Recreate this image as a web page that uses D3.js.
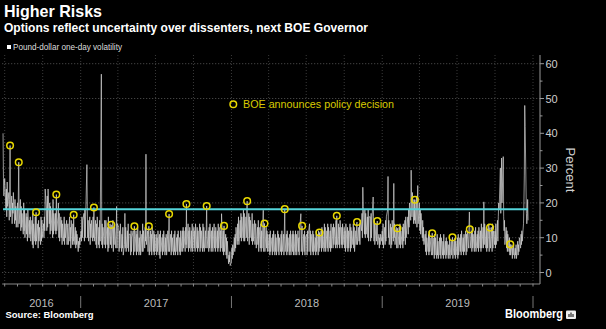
<!DOCTYPE html>
<html>
<head>
<meta charset="utf-8">
<script src="https://cdn.jsdelivr.net/npm/d3@7"></script>
<style>
  html, body { margin: 0; padding: 0; background: #000; }
  svg { display: block; }
  text { font-family: "Liberation Sans", Arial, sans-serif; }
</style>
</head>
<body>
<svg id="chart" width="606" height="329"></svg>
<script>
// Pound-dollar one-day volatility (%), one value per business day, by month
const monthStarts = [
  "2016-06-27", "2016-07-01", "2016-08-01", "2016-09-01", "2016-10-01", "2016-11-01", "2016-12-01",
  "2017-01-01", "2017-02-01", "2017-03-01", "2017-04-01", "2017-05-01", "2017-06-01",
  "2017-07-01", "2017-08-01", "2017-09-01", "2017-10-01", "2017-11-01", "2017-12-01",
  "2018-01-01", "2018-02-01", "2018-03-01", "2018-04-01", "2018-05-01", "2018-06-01",
  "2018-07-01", "2018-08-01", "2018-09-01", "2018-10-01", "2018-11-01", "2018-12-01",
  "2019-01-01", "2019-02-01", "2019-03-01", "2019-04-01", "2019-05-01", "2019-06-01",
  "2019-07-01", "2019-08-01", "2019-09-01", "2019-10-01", "2019-11-01", "2019-12-01"
];
const volByMonth = [
  [40, 27, 22, 25],
  [27, 18, 24, 16, 26, 19, 23, 15, 21, 36.5, 16, 22, 14, 20, 17, 23, 14, 21, 15, 19, 13],
  [20, 13, 22, 31.7, 14, 21, 12, 19, 13, 17, 11, 20, 12, 18, 10, 17, 11, 16, 9, 18, 10, 15, 11],
  [16, 9, 15, 8, 17, 7, 14, 9, 16, 8, 17.3, 9, 14, 7, 15, 9, 13, 8, 16, 9, 15, 10],
  [14, 10, 16, 12, 24, 18, 12, 22, 13, 24, 14, 20, 11, 19, 12, 18, 10, 21, 11, 17, 12],
  [17, 11, 22.4, 12, 16, 20, 10, 17, 9, 16, 10, 15, 8, 14, 9, 16, 8, 14, 10, 15, 8, 13],
  [14, 8, 16, 9, 13, 7, 15, 8, 14, 9, 16.6, 8, 13, 7, 12, 8, 11, 6, 9, 7, 10, 8],
  [12, 9, 16, 10, 15, 17, 9, 18, 10, 16, 31, 19, 10, 15, 9, 16, 8, 14, 10, 15, 9, 16],
  [10, 18.7, 9, 15, 8, 14, 7, 16, 8, 13, 7, 15, 9, 57, 8, 14, 7, 13, 8, 15],
  [14, 7, 15, 8, 13, 6, 16, 7, 14, 8, 12, 13.7, 7, 15, 6, 13, 8, 14, 7, 12, 19, 7, 14],
  [13, 6, 12, 7, 14, 6, 11, 7, 13, 5, 8, 17, 7, 13, 6, 12, 7, 14, 6, 11],
  [11, 5, 12, 6, 10, 12, 5, 11, 13.3, 6, 12, 5, 11, 6, 13, 5, 10, 6, 12, 5, 11, 6, 14],
  [6, 12, 7, 13, 9, 34, 8, 12, 6, 11, 13.3, 5, 12, 6, 11, 5, 13, 6, 12, 5, 11, 6],
  [11, 5, 10, 6, 12, 5, 11, 4, 12, 6, 10, 5, 11, 6, 12, 5, 10, 6, 11, 5, 12],
  [6, 11, 16.8, 6, 11, 5, 12, 6, 10, 5, 11, 6, 12, 5, 10, 6, 11, 5, 12, 6, 10, 5, 12],
  [6, 12, 6, 13, 7, 12, 6, 13, 8, 19.7, 7, 14, 6, 12, 7, 13, 6, 12, 7, 14, 6],
  [13, 7, 12, 6, 14, 7, 13, 6, 12, 7, 14, 6, 13, 7, 12, 6, 14, 7, 13, 6, 12, 7],
  [13, 19.1, 7, 12, 6, 13, 7, 14, 6, 12, 7, 13, 6, 14, 7, 12, 6, 13, 7, 12, 6, 14],
  [7, 13, 6, 12, 7, 16.9, 6, 12, 5, 13.4, 6, 11, 5, 10, 4, 9, 2.5, 5, 3, 6, 2],
  [3, 7, 4, 8, 5, 10, 6, 11, 7, 13, 8, 14, 9, 16, 8, 15, 10, 17, 9, 16, 10, 18, 9],
  [17, 9, 16, 10, 18, 20.5, 9, 17, 8, 16, 10, 15, 9, 17, 8, 14, 9, 15, 8, 14],
  [14, 7, 13, 8, 15, 6, 13, 7, 14, 6, 12, 7, 17.9, 6, 12, 14.1, 6, 13, 7, 12, 6, 11],
  [6, 11, 5, 12, 6, 10, 5, 11, 6, 12, 5, 11, 6, 10, 5, 12, 6, 11, 5, 10, 6],
  [11, 5, 12, 6, 11, 5, 12, 18.2, 6, 11, 5, 12, 6, 10, 5, 11, 6, 12, 5, 11, 6, 12, 5],
  [11, 5, 12, 6, 11, 5, 12, 6, 10, 5, 12, 16.9, 6, 11, 13.4, 5, 11, 6, 12, 5, 10],
  [11, 5, 12, 6, 11, 14, 6, 12, 5, 11, 6, 12, 5, 11, 6, 10, 5, 12, 6, 11, 5, 12],
  [6, 11.5, 7, 12, 6, 13, 7, 12, 6, 14, 7, 13, 6, 12, 7, 14, 6, 13, 7, 12, 6, 14, 7],
  [13, 7, 14, 8, 13, 7, 15, 8, 16.3, 7, 14, 8, 13, 7, 15, 8, 13, 7, 14, 8],
  [13, 7, 12, 6, 14, 7, 13, 6, 12, 7, 14, 6, 13, 7, 12, 8, 14, 7, 13, 6, 12, 8, 14],
  [14.5, 8, 13, 9, 14, 8, 15, 12, 17, 10, 24.5, 19, 11, 18, 10, 17, 11, 16, 10, 18, 9, 16],
  [16, 9, 17, 10, 15, 21.7, 16, 9, 15, 8, 14, 9, 13, 14.8, 8, 11, 7, 10, 8, 11, 9],
  [12, 8, 14, 7, 13, 8, 15, 9, 16, 18, 27.6, 10, 15, 8, 14, 7, 13, 8, 15, 9, 25.6, 10, 14],
  [8, 13, 7, 12, 12.7, 7, 13, 8, 14, 7, 12, 8, 13, 7, 14, 9, 15, 8, 16, 10],
  [12, 16, 11, 18, 13, 20, 15, 29.4, 22, 16, 23, 14, 21, 15, 20.9, 14, 22, 13, 20, 25, 14],
  [20, 12, 18, 11, 17, 10, 15, 9, 13, 8, 11, 6, 12, 5, 10, 6, 11, 5, 12, 6, 10, 5],
  [6, 11.3, 5, 10, 4, 11, 5, 10, 4, 11, 5, 9, 4, 10, 5, 11, 4, 10, 5, 9, 4, 11, 5],
  [9, 4, 10, 5, 9, 4, 8, 5, 10, 4, 9, 5, 8, 10.1, 4, 9, 5, 10, 4, 9],
  [5, 10, 4, 11, 5, 10, 6, 11, 5, 12, 6, 10, 5, 11, 6, 12, 5, 11, 6, 12, 7, 13, 17.4],
  [12.4, 7, 12, 6, 13, 7, 11, 6, 12, 7, 13, 6, 11, 7, 12, 6, 13, 7, 12, 6, 14, 7],
  [13, 7, 20.3, 8, 14, 7, 13, 6, 12, 7, 14, 6, 12, 12.9, 7, 13, 6, 14, 7, 12, 8],
  [12, 7, 14, 8, 15, 9, 16, 20, 18, 30, 17, 22, 32.9, 20, 33.3, 16, 12, 15, 8, 13, 7, 12, 6],
  [11, 6, 10, 5, 8.1, 5, 8, 4, 7, 5, 8, 4, 7, 5, 8, 4, 9, 5, 8, 6, 10],
  [7, 11, 8, 12, 9, 14, 20, 28, 48, 42, 17, 14, 16, 21, 15]
];

// BOE policy announcement days
const boeDates = [
  "2016-07-14", "2016-08-04", "2016-09-15", "2016-11-03", "2016-12-15",
  "2017-02-02", "2017-03-16", "2017-05-11", "2017-06-15", "2017-08-03", "2017-09-14", "2017-11-02", "2017-12-14",
  "2018-02-08", "2018-03-22", "2018-05-10", "2018-06-21", "2018-08-02", "2018-09-13", "2018-11-01", "2018-12-20",
  "2019-02-07", "2019-03-21", "2019-05-02", "2019-06-20", "2019-08-01", "2019-09-19", "2019-11-07"
];

const averageVol = 18.15;
const yTicks = [0, 10, 20, 30, 40, 50, 60];
const yMinorTicks = [5, 15, 25, 35, 45, 55];
const yGrid = [0, 10, 20, 30, 50, 60];
const years = ["2016", "2017", "2018", "2019"];

const svg = d3.select("#chart");
const parse = d3.timeParse("%Y-%m-%d");
const fmt = d3.timeFormat("%Y-%m-%d");

// build the daily series
const series = [];
monthStarts.forEach((s, m) => {
  const start = parse(s);
  const end = d3.timeMonth.offset(d3.timeMonth.floor(start), 1);
  const days = d3.timeDays(start, end).filter(d => d.getDay() !== 0 && d.getDay() !== 6);
  volByMonth[m].forEach((v, i) => {
    if (days[i]) series.push({ date: days[i], value: v });
  });
});
const byDate = new Map(series.map(d => [fmt(d.date), d.value]));

// scales
const x = d3.scaleTime()
  .domain([parse("2017-01-01"), parse("2020-01-01")])
  .range([80.7, 533]);
const y = d3.scaleLinear().domain([-3.3, 62.5]).range([284, 55]);
const left = x(parse("2016-06-25")), right = 540;

// grid
const quarters = d3.timeMonth.every(3).range(parse("2016-07-01"), parse("2020-01-02"));
svg.append("g").selectAll("line").data(quarters).join("line")
  .attr("x1", d => x(d)).attr("x2", d => x(d))
  .attr("y1", 55).attr("y2", 284)
  .attr("stroke", "#3a3a3a").attr("stroke-width", 1)
  .attr("stroke-dasharray", "1,2");
svg.append("g").selectAll("line").data(yGrid).join("line")
  .attr("x1", left).attr("x2", right)
  .attr("y1", d => y(d)).attr("y2", d => y(d))
  .attr("stroke", "#555").attr("stroke-width", 1)
  .attr("stroke-dasharray", "1,2");

// volatility line
const line = d3.line().x(d => x(d.date)).y(d => y(d.value));
svg.append("path")
  .datum(series)
  .attr("d", line)
  .attr("fill", "none")
  .attr("stroke", "#d4d4d4")
  .attr("stroke-width", 0.7);

// average line
svg.append("line")
  .attr("x1", x(series[0].date)).attr("x2", x(series[series.length - 1].date))
  .attr("y1", y(averageVol)).attr("y2", y(averageVol))
  .attr("stroke", "#55d4da").attr("stroke-width", 2);

// BOE markers
svg.append("g").selectAll("circle").data(boeDates).join("circle")
  .attr("cx", d => x(parse(d)))
  .attr("cy", d => y(byDate.get(d)))
  .attr("r", 3.3)
  .attr("fill", "none")
  .attr("stroke", "#e8d800")
  .attr("stroke-width", 1.5);

// y axis (right)
const ya = svg.append("g");
ya.append("line").attr("x1", right).attr("x2", right).attr("y1", 55).attr("y2", 284)
  .attr("stroke", "#999");
ya.selectAll(".maj").data(yTicks).join("line").attr("class", "maj")
  .attr("x1", right).attr("x2", right + 4)
  .attr("y1", d => y(d)).attr("y2", d => y(d)).attr("stroke", "#999");
ya.selectAll(".min").data(yMinorTicks).join("line").attr("class", "min")
  .attr("x1", right).attr("x2", right + 2.5)
  .attr("y1", d => y(d)).attr("y2", d => y(d)).attr("stroke", "#999");
ya.selectAll("text").data(yTicks).join("text")
  .attr("x", right + 5.5).attr("y", d => y(d) + 4)
  .attr("fill", "#cfcfcf").attr("font-size", 11)
  .text(d => d);
svg.append("text")
  .attr("transform", "translate(566,170) rotate(90)")
  .attr("text-anchor", "middle")
  .attr("fill", "#cfcfcf").attr("font-size", 13)
  .text("Percent");

// x axis
const xa = svg.append("g");
xa.append("line").attr("x1", left).attr("x2", right).attr("y1", 284).attr("y2", 284)
  .attr("stroke", "#888");
const months = d3.timeMonth.range(parse("2016-07-01"), parse("2020-01-02"));
xa.selectAll(".mt").data(months).join("line").attr("class", "mt")
  .attr("x1", d => x(d)).attr("x2", d => x(d))
  .attr("y1", 284).attr("y2", 286.5).attr("stroke", "#888");
const yearStarts = years.map(s => parse(s + "-01-01")).slice(1).concat([parse("2020-01-01")]);
xa.selectAll(".yd").data(yearStarts).join("line").attr("class", "yd")
  .attr("x1", d => x(d)).attr("x2", d => x(d))
  .attr("y1", 296).attr("y2", 308).attr("stroke", "#777");
xa.selectAll("text").data(years).join("text")
  .attr("x", d => {
    const a = Math.max(left, x(parse(d + "-01-01")));
    const b = x(parse((+d + 1) + "-01-01"));
    return (a + b) / 2;
  })
  .attr("y", 307)
  .attr("text-anchor", "middle")
  .attr("fill", "#bdbdbd").attr("font-size", 11)
  .text(d => d);

// titles and notes
svg.append("text").attr("x", 4).attr("y", 17)
  .attr("fill", "#fff").attr("font-size", 17).attr("font-weight", "bold")
  .attr("textLength", 98).attr("lengthAdjust", "spacingAndGlyphs")
  .text("Higher Risks");
svg.append("text").attr("x", 4).attr("y", 32)
  .attr("fill", "#fff").attr("font-size", 13).attr("font-weight", "bold")
  .attr("textLength", 364).attr("lengthAdjust", "spacingAndGlyphs")
  .text("Options reflect uncertainty over dissenters, next BOE Governor");
svg.append("rect").attr("x", 7).attr("y", 45).attr("width", 4).attr("height", 4).attr("fill", "#fff");
svg.append("text").attr("x", 13).attr("y", 49.5)
  .attr("fill", "#ddd").attr("font-size", 9)
  .attr("textLength", 109).attr("lengthAdjust", "spacingAndGlyphs")
  .text("Pound-dollar one-day volatility");

svg.append("circle").attr("cx", 233.3).attr("cy", 104.3).attr("r", 3.3)
  .attr("fill", "none").attr("stroke", "#e8d800").attr("stroke-width", 1.5);
svg.append("text").attr("x", 243).attr("y", 108.3)
  .attr("fill", "#d9cb00").attr("font-size", 11)
  .attr("textLength", 151).attr("lengthAdjust", "spacingAndGlyphs")
  .text("BOE announces policy decision");

svg.append("text").attr("x", 5.5).attr("y", 318)
  .attr("fill", "#fff").attr("font-size", 9).attr("font-weight", "bold")
  .attr("textLength", 88).attr("lengthAdjust", "spacingAndGlyphs")
  .text("Source: Bloomberg");

svg.append("text").attr("x", 505).attr("y", 317.5)
  .attr("fill", "#fff").attr("font-size", 12).attr("font-weight", "bold")
  .attr("textLength", 58).attr("lengthAdjust", "spacingAndGlyphs")
  .text("Bloomberg");
svg.append("rect").attr("x", 566).attr("y", 310.5).attr("width", 10).attr("height", 8.5)
  .attr("rx", 1).attr("fill", "#eee");
svg.append("path").attr("d", "M569,317V314M571,317V312.5M573,317V314")
  .attr("stroke", "#000").attr("stroke-width", 1);
</script>
</body>
</html>
